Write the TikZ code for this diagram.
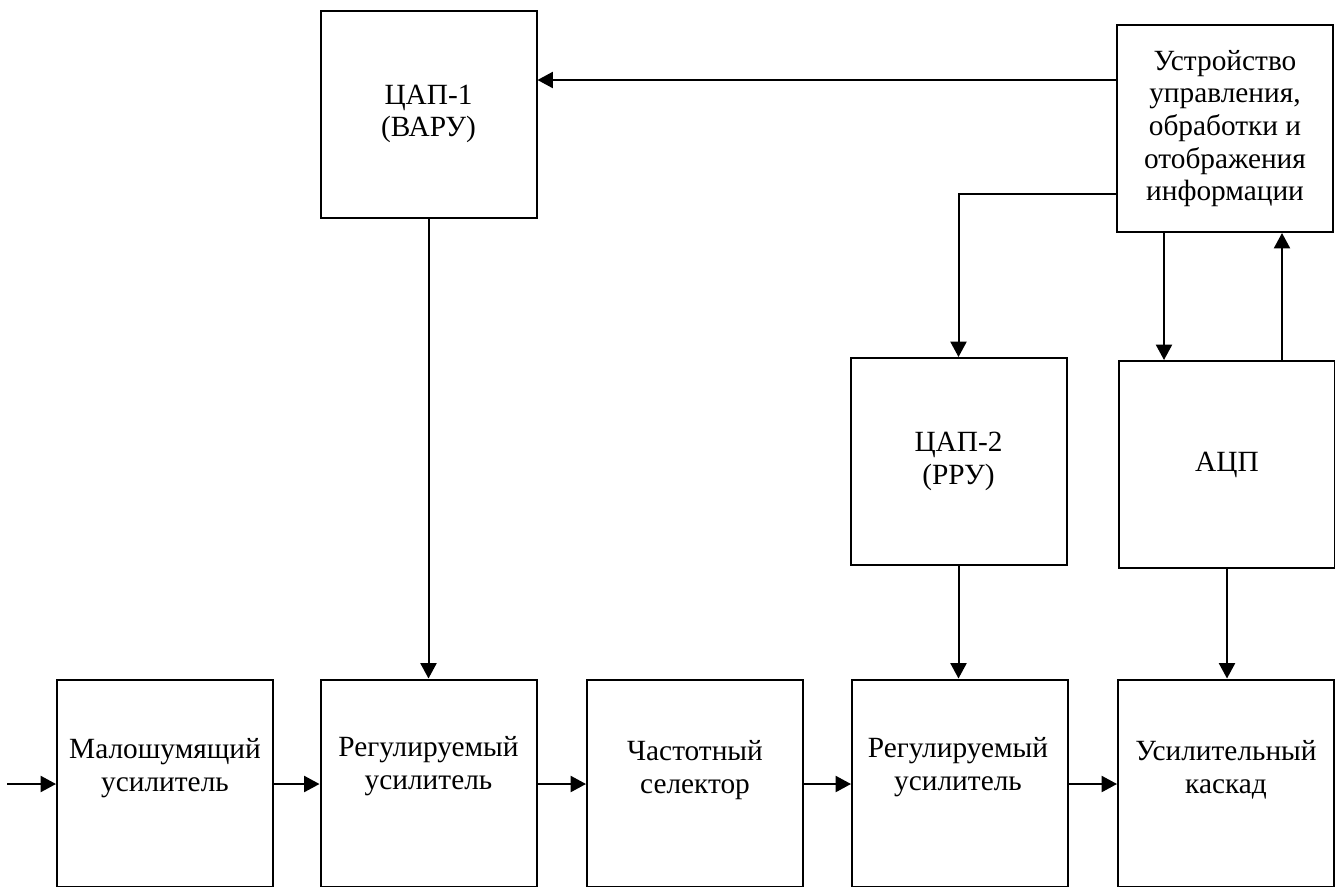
\documentclass[tikz,border=0pt]{standalone}
\usepackage{fontspec}
\setmainfont{Liberation Serif}
\usetikzlibrary{arrows.meta, positioning}

\begin{document}
\begin{tikzpicture}[x=0.75pt, y=-0.75pt, line width=1.5pt,
    blk/.style={draw, minimum width=216*0.75pt, minimum height=207*0.75pt,
        inner sep=0pt, align=center, font=\fontsize{22}{24.5}\selectfont},
    txt/.style={align=center, inner sep=0pt, font=\fontsize{22}{24.5}\selectfont},
    arr/.style={-{Triangle[length=11.5pt, width=12pt]}},
]
\useasboundingbox (0,0) rectangle (1335,886);

% upper blocks
\node[blk] (dac1) at (428.5,114) {ЦАП-1\\(ВАРУ)};
\node[blk] (ctrl) at (1225,128.5) {Устройство\\управления,\\обработки и\\отображения\\информации};
\node[blk] (dac2) at (958.5,461.5) {ЦАП-2\\(РРУ)};
\node[blk] (adc) at (1227,464.5) {АЦП};

% main chain
\node[blk] (lna) at (165,783) {};
\node[blk] (ra1) at (428.5,783) {};
\node[blk] (fsel) at (695,783) {};
\node[blk] (ra2) at (960,783) {};
\node[blk] (amp) at (1226,783) {};
\node[txt] (lnaT) at (165,768) {Малошумящий\\усилитель};
\node[txt] (ra1T) at (428.5,766) {Регулируемый\\усилитель};
\node[txt] (fselT) at (695,770) {Частотный\\селектор};
\node[txt] (ra2T) at (958,767) {Регулируемый\\усилитель};
\node[txt] (ampT) at (1226,770) {Усилительный\\каскад};

\coordinate (in) at (7,784);
\draw[arr] (in) -- (lna.west |- in);
\draw[arr] (lna.east |- in) -- (ra1.west |- in);
\draw[arr] (ra1.east |- in) -- (fsel.west |- in);
\draw[arr] (fsel.east |- in) -- (ra2.west |- in);
\draw[arr] (ra2.east |- in) -- (amp.west |- in);

% control links
\draw[arr] (dac1.south) -- (dac1.south |- ra1.north);
\draw[arr] (ctrl.west |- 0,80) -- (dac1.east |- 0,80);
\draw[arr] (ctrl.west |- 0,194) -| (dac2.north);
\draw[arr] (ctrl.south -| 1164,0) -- (adc.north -| 1164,0);
\draw[arr] (adc.north -| 1282,0) -- (ctrl.south -| 1282,0);
\draw[arr] (dac2.south) -- (dac2.south |- ra2.north);
\draw[arr] (adc.south) -- (adc.south |- amp.north);
\end{tikzpicture}
\end{document}
